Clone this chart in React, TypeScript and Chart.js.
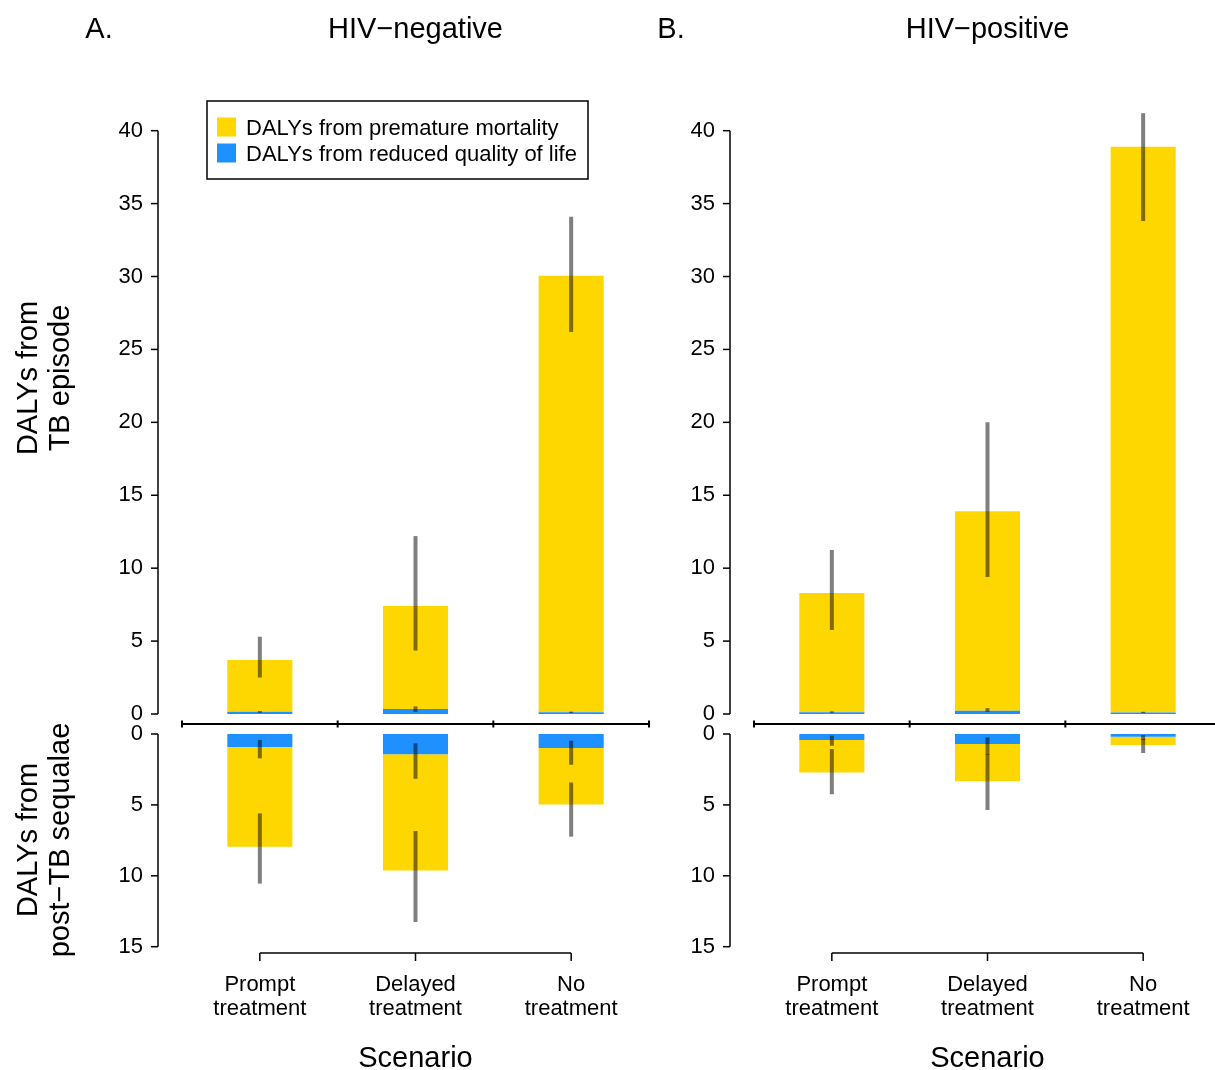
import React, { useEffect, useRef } from 'react';
import { Chart, registerables } from 'chart.js';

Chart.register(...registerables);

const FONT = '"Liberation Sans", Arial, Helvetica, sans-serif';
const YELLOW = '#FFD700';
const BLUE = '#1E90FF';
const ERR = 'rgba(0,0,0,0.5)';

// ---------- data ----------
const categories = [['Prompt', 'treatment'], ['Delayed', 'treatment'], ['No', 'treatment']];
const seriesLabels = ['DALYs from premature mortality', 'DALYs from reduced quality of life'];
const topTicks = [0, 5, 10, 15, 20, 25, 30, 35, 40];
const bottomTicks = [0, 5, 10, 15];

// HIV-negative: DALYs from TB episode
const negEpisodeMortality = [3.55, 7.06, 29.93];
const negEpisodeQol = [0.15, 0.34, 0.12];
const negEpisodeTotalLo = [2.5, 4.35, 26.2];
const negEpisodeTotalHi = [5.3, 12.2, 34.1];
const negEpisodeQolLo = [0.08, 0.14, 0.07];
const negEpisodeQolHi = [0.2, 0.52, 0.16];
// HIV-negative: DALYs from post-TB sequelae
const negSequelaeMortality = [7.03, 8.2, 3.99];
const negSequelaeQol = [0.92, 1.42, 0.99];
const negSequelaeTotalLo = [5.6, 6.84, 3.42];
const negSequelaeTotalHi = [10.55, 13.26, 7.24];
const negSequelaeQolLo = [0.42, 0.66, 0.47];
const negSequelaeQolHi = [1.72, 3.16, 2.17];

// HIV-positive: DALYs from TB episode
const posEpisodeMortality = [8.18, 13.67, 38.8];
const posEpisodeQol = [0.12, 0.23, 0.1];
const posEpisodeTotalLo = [5.76, 9.4, 33.8];
const posEpisodeTotalHi = [11.25, 20.0, 41.2];
const posEpisodeQolLo = [0.08, 0.15, 0.06];
const posEpisodeQolHi = [0.18, 0.4, 0.15];
// HIV-positive: DALYs from post-TB sequelae
const posSequelaeMortality = [2.29, 2.62, 0.59];
const posSequelaeQol = [0.42, 0.71, 0.19];
const posSequelaeTotalLo = [1.06, 1.42, 0.35];
const posSequelaeTotalHi = [4.25, 5.36, 1.34];
const posSequelaeQolLo = [0.12, 0.24, 0.07];
const posSequelaeQolHi = [0.83, 1.46, 0.42];

type Panel = {
  letter: string;
  title: string;
  left: number;
  legend: boolean;
  epMort: number[]; epQol: number[];
  epTotLo: number[]; epTotHi: number[]; epQolLo: number[]; epQolHi: number[];
  sqMort: number[]; sqQol: number[];
  sqTotLo: number[]; sqTotHi: number[]; sqQolLo: number[]; sqQolHi: number[];
};

const panels: Panel[] = [
  {
    letter: 'A.', title: 'HIV\u2212negative', left: 0, legend: true,
    epMort: negEpisodeMortality, epQol: negEpisodeQol,
    epTotLo: negEpisodeTotalLo, epTotHi: negEpisodeTotalHi, epQolLo: negEpisodeQolLo, epQolHi: negEpisodeQolHi,
    sqMort: negSequelaeMortality, sqQol: negSequelaeQol,
    sqTotLo: negSequelaeTotalLo, sqTotHi: negSequelaeTotalHi, sqQolLo: negSequelaeQolLo, sqQolHi: negSequelaeQolHi,
  },
  {
    letter: 'B.', title: 'HIV\u2212positive', left: 572, legend: false,
    epMort: posEpisodeMortality, epQol: posEpisodeQol,
    epTotLo: posEpisodeTotalLo, epTotHi: posEpisodeTotalHi, epQolLo: posEpisodeQolLo, epQolHi: posEpisodeQolHi,
    sqMort: posSequelaeMortality, sqQol: posSequelaeQol,
    sqTotLo: posSequelaeTotalLo, sqTotHi: posSequelaeTotalHi, sqQolLo: posSequelaeQolLo, sqQolHi: posSequelaeQolHi,
  },
];

const CANVAS_W = 660;
const CANVAS_H = 1070;
const AREA_TOP = 100;
const AREA_BOTTOM = 953;
const AREA_LEFT = 182;
const SPLIT = 724;

function PanelChart({ p }: { p: Panel }) {
  const ref = useRef<HTMLCanvasElement | null>(null);

  useEffect(() => {
    if (!ref.current) return;

    const decorPlugin = {
      id: 'decor',
      afterDatasetsDraw(chart: any) {
        const ctx = chart.ctx;
        const { x, yTop, yBot } = chart.scales;
        ctx.save();
        ctx.strokeStyle = ERR;
        ctx.lineWidth = 4;
        ctx.lineCap = 'butt';
        const bar = (sc: any, i: number, lo: number, hi: number) => {
          const px = x.getPixelForValue(i);
          ctx.beginPath();
          ctx.moveTo(px, sc.getPixelForValue(lo));
          ctx.lineTo(px, sc.getPixelForValue(hi));
          ctx.stroke();
        };
        categories.forEach((_, i) => {
          bar(yTop, i, p.epQolLo[i], p.epQolHi[i]);
          bar(yTop, i, p.epTotLo[i], p.epTotHi[i]);
          bar(yBot, i, p.sqQolLo[i], p.sqQolHi[i]);
          bar(yBot, i, p.sqTotLo[i], p.sqTotHi[i]);
        });
        ctx.restore();
      },
      afterDraw(chart: any) {
        const ctx = chart.ctx;
        const { x, yTop, yBot } = chart.scales;
        const area = chart.chartArea;
        const line = (x1: number, y1: number, x2: number, y2: number) => {
          ctx.beginPath();
          ctx.moveTo(x1, y1);
          ctx.lineTo(x2, y2);
          ctx.stroke();
        };
        ctx.save();
        ctx.strokeStyle = '#000';
        ctx.lineWidth = 1.5;
        // y axes (R style)
        const ax = area.left - 24;
        line(ax, yTop.getPixelForValue(topTicks[0]), ax, yTop.getPixelForValue(topTicks[topTicks.length - 1]));
        topTicks.forEach((v) => { const py = yTop.getPixelForValue(v); line(ax - 7, py, ax, py); });
        line(ax, yBot.getPixelForValue(bottomTicks[0]), ax, yBot.getPixelForValue(bottomTicks[bottomTicks.length - 1]));
        bottomTicks.forEach((v) => { const py = yBot.getPixelForValue(v); line(ax - 7, py, ax, py); });
        // middle separator line with category-boundary ticks
        const my = yTop.bottom;
        ctx.lineWidth = 2;
        line(area.left, my, area.right, my);
        const half = (x.getPixelForValue(1) - x.getPixelForValue(0)) / 2;
        for (let i = 0; i <= categories.length; i++) {
          const px = i < categories.length ? x.getPixelForValue(i) - half : x.getPixelForValue(categories.length - 1) + half;
          line(px, my - 3.5, px, my + 3.5);
        }
        // bottom x axis
        ctx.lineWidth = 1.5;
        const by = area.bottom;
        line(x.getPixelForValue(0), by, x.getPixelForValue(categories.length - 1), by);
        categories.forEach((_, i) => { const px = x.getPixelForValue(i); line(px, by, px, by + 8); });

        // texts
        ctx.fillStyle = '#000';
        ctx.textBaseline = 'middle';
        ctx.textAlign = 'center';
        ctx.font = `29px ${FONT}`;
        const cx = (area.left + area.right) / 2;
        ctx.fillText(p.title, cx, 30);
        ctx.fillText(p.letter, 99, 30);
        ctx.fillText('Scenario', cx, 1059);
        if (p.legend) {
          // y titles
          const yTitle = (lines: string[], cy: number) => {
            ctx.save();
            ctx.translate(0, cy);
            ctx.rotate(-Math.PI / 2);
            ctx.fillText(lines[0], 0, 29);
            ctx.fillText(lines[1], 0, 61);
            ctx.restore();
          };
          yTitle(['DALYs from', 'TB episode'], 378);
          yTitle(['DALYs from', 'post\u2212TB sequalae'], 840);

          // legend
          const lx = area.left + 25;
          const ly = area.top + 1;
          ctx.lineWidth = 1.5;
          ctx.strokeRect(lx, ly, 381, 78);
          const items = [chart.data.datasets[1], chart.data.datasets[0]];
          ctx.font = `22px ${FONT}`;
          ctx.textAlign = 'left';
          items.forEach((ds: any, k: number) => {
            const cy = ly + 26 + k * 26;
            ctx.fillStyle = ds.backgroundColor;
            ctx.fillRect(lx + 10, cy - 9.5, 19, 19);
            ctx.fillStyle = '#000';
            ctx.fillText(ds.label, lx + 39, cy + 1.5);
          });
        }
        ctx.restore();
      },
    };

    const tickFont = { family: FONT, size: 22, lineHeight: 1.08 };
    const topRange = 42.79;
    const topMin = -10 * topRange / (SPLIT - AREA_TOP);
    const botRange = 16.15;
    const botMin = -10 * botRange / (AREA_BOTTOM - SPLIT);

    const chart = new Chart(ref.current, {
      type: 'bar',
      data: {
        labels: categories,
        datasets: [
          { label: seriesLabels[1], data: p.epQol, backgroundColor: BLUE, yAxisID: 'yTop', stack: 'top', grouped: false },
          { label: seriesLabels[0], data: p.epMort, backgroundColor: YELLOW, yAxisID: 'yTop', stack: 'top', grouped: false },
          { label: seriesLabels[1], data: p.sqQol, backgroundColor: BLUE, yAxisID: 'yBot', stack: 'bot', grouped: false },
          { label: seriesLabels[0], data: p.sqMort, backgroundColor: YELLOW, yAxisID: 'yBot', stack: 'bot', grouped: false },
        ] as any,
      },
      options: {
        responsive: false,
        animation: false,
        devicePixelRatio: 1,
        layout: { padding: { top: AREA_TOP, left: 0, right: CANVAS_W - 649, bottom: 0 } },
        datasets: { bar: { barPercentage: 0.418, categoryPercentage: 1, borderWidth: 0 } } as any,
        plugins: { legend: { display: false }, title: { display: false }, tooltip: { enabled: false } },
        scales: {
          x: {
            type: 'category',
            offset: true,
            grid: { display: false, drawTicks: false },
            border: { display: false },
            ticks: { font: tickFont, color: '#000', padding: 20, maxRotation: 0, autoSkip: false },
            afterFit: (s: any) => { s.height = CANVAS_H - AREA_BOTTOM; },
          },
          yTop: {
            type: 'linear',
            position: 'left',
            stack: 'y',
            stackWeight: SPLIT - AREA_TOP,
            weight: 2,
            stacked: true,
            min: topMin,
            max: topMin + topRange,
            grid: { display: false, drawTicks: false },
            border: { display: false },
            ticks: { font: tickFont, color: '#000', padding: 39, autoSkip: false, callback: (v: any) => String(v) },
            afterBuildTicks: (s: any) => { s.ticks = topTicks.map((v) => ({ value: v })); },
            afterFit: (s: any) => { s.width = AREA_LEFT; },
          },
          yBot: {
            type: 'linear',
            position: 'left',
            stack: 'y',
            stackWeight: AREA_BOTTOM - SPLIT,
            weight: 1,
            stacked: true,
            reverse: true,
            min: botMin,
            max: botMin + botRange,
            grid: { display: false, drawTicks: false },
            border: { display: false },
            ticks: { font: tickFont, color: '#000', padding: 39, autoSkip: false, callback: (v: any) => String(v) },
            afterBuildTicks: (s: any) => { s.ticks = bottomTicks.map((v) => ({ value: v })); },
            afterFit: (s: any) => { s.width = AREA_LEFT; },
          },
        } as any,
      },
      plugins: [decorPlugin],
    });
    return () => chart.destroy();
  }, [p]);

  return (
    <canvas
      ref={ref}
      width={CANVAS_W}
      height={CANVAS_H}
      style={{ position: 'absolute', left: p.left, top: 0, width: CANVAS_W, height: CANVAS_H }}
    />
  );
}

export default function App() {
  return (
    <div style={{ position: 'absolute', left: 0, top: 0, width: 1215, height: 1070, overflow: 'hidden', background: '#fff' }}>
      {panels.map((p) => <PanelChart key={p.letter} p={p} />)}
    </div>
  );
}
